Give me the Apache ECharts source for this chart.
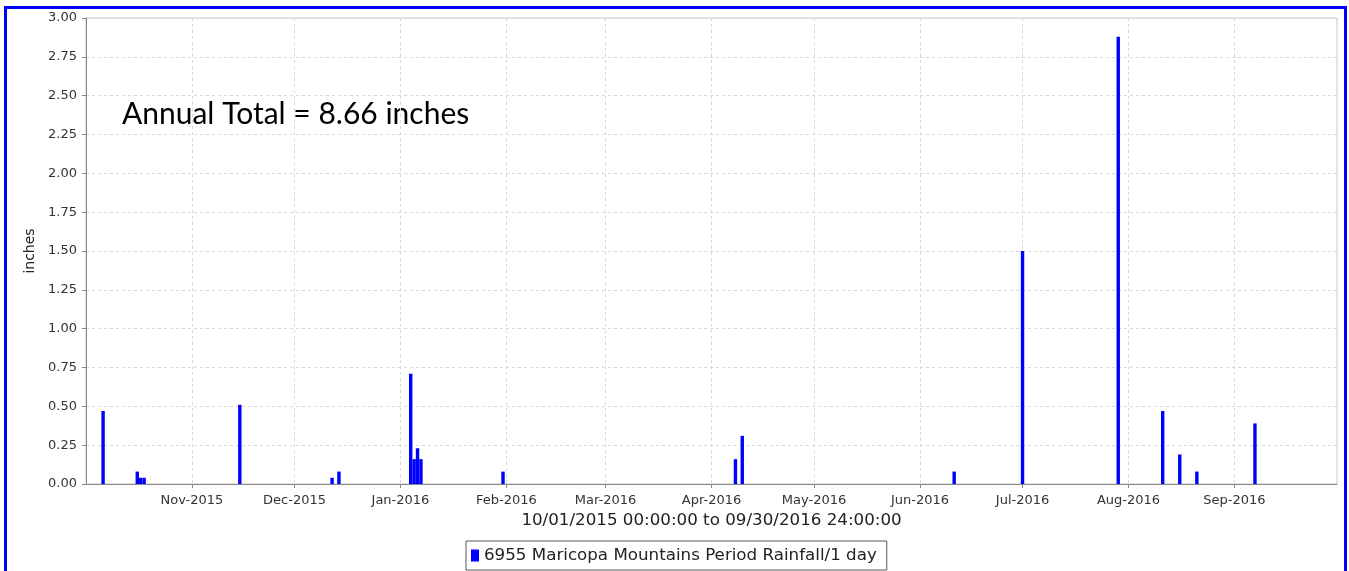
<!DOCTYPE html>
<html>
<head>
<meta charset="utf-8">
<title>Maricopa Mountains Period Rainfall</title>
<script src="https://cdn.jsdelivr.net/npm/echarts@6.0.0/dist/echarts.min.js"></script>
<style>
    html, body { margin: 0; padding: 0; background: #fff; overflow: hidden; }
    #main { width: 1349px; height: 571px; }
    .frame {
        position: absolute; left: 4px; top: 6px; width: 1343px; height: 600px;
        box-sizing: border-box; border: 3px solid #0000ff; pointer-events: none;
    }
</style>
</head>
<body>
<div id="main"></div>
<div class="frame"></div>
<script>
// daily rainfall, water year 2015-16 (days with rain only)
const rainDates = [
    '2015-10-06', '2015-10-16', '2015-10-17', '2015-10-18', '2015-11-15',
    '2015-12-12', '2015-12-14', '2016-01-04', '2016-01-05', '2016-01-06',
    '2016-01-07', '2016-01-31', '2016-04-08', '2016-04-10', '2016-06-11',
    '2016-07-01', '2016-07-29', '2016-08-11', '2016-08-16', '2016-08-21',
    '2016-09-07'
]
const rainInches = [
    0.47, 0.08, 0.04, 0.04, 0.51,
    0.04, 0.08, 0.71, 0.16, 0.23,
    0.16, 0.08, 0.16, 0.31, 0.08,
    1.50, 2.88, 0.47, 0.19, 0.08,
    0.39
]
// month ticks on the x axis
const monthTicks = [
    '2015-11-01', '2015-12-01', '2016-01-01', '2016-02-01', '2016-03-01', '2016-04-01',
    '2016-05-01', '2016-06-01', '2016-07-01', '2016-08-01', '2016-09-01'
]
const monthLabels = [
    'Nov-2015', 'Dec-2015', 'Jan-2016', 'Feb-2016', 'Mar-2016', 'Apr-2016',
    'May-2016', 'Jun-2016', 'Jul-2016', 'Aug-2016', 'Sep-2016'
]
const periodStart = '2015-10-01'
const periodEnd = '2016-10-01'
const seriesName = '6955 Maricopa Mountains Period Rainfall/1 day'
const periodText = '10/01/2015 00:00:00 to 09/30/2016 24:00:00'
const totalText = 'Annual Total = 8.66 inches'

const toTime = (d) => echarts.time.parse(d).getTime()
const tickTimes = monthTicks.map(toTime)

const myChart = echarts.init(document.getElementById('main'))
const option = {
    animation: false,
    textStyle: { fontFamily: 'DejaVu Sans' },
    grid: {
        left: 86, right: 12, top: 18, bottom: 87,
        containLabel: false,
        outerBoundsMode: 'none',
        show: true,
        borderColor: '#c8c8c8',
        borderWidth: 1,
        backgroundColor: '#fff'
    },
    legend: {
        left: 466,
        top: 541,
        padding: [6, 10, 6, 5],
        borderColor: '#555',
        borderWidth: 1,
        borderRadius: 0,
        itemWidth: 8,
        itemHeight: 12,
        icon: 'rect',
        textStyle: { fontSize: 16.7, color: '#222', fontFamily: 'DejaVu Sans' },
        data: [seriesName]
    },
    xAxis: {
        type: 'value',
        min: toTime(periodStart),
        max: toTime(periodEnd),
        name: periodText,
        nameLocation: 'middle',
        nameGap: 26,
        nameTextStyle: { fontSize: 16.7, color: '#222' },
        axisLine: { lineStyle: { color: '#888' } },
        axisTick: { show: true, length: 4, lineStyle: { color: '#888' }, customValues: tickTimes },
        axisLabel: {
            fontSize: 13,
            color: '#333',
            margin: 10,
            customValues: tickTimes,
            formatter: (val) => {
                const i = tickTimes.indexOf(val)
                return i >= 0 ? monthLabels[i] : ''
            }
        },
        splitLine: { show: true, lineStyle: { color: '#d8d8d8', type: [3, 3] } }
    },
    yAxis: {
        type: 'value',
        min: 0,
        max: 3,
        interval: 0.25,
        name: 'inches',
        nameLocation: 'middle',
        nameGap: 45,
        nameTextStyle: { fontSize: 14, color: '#222' },
        axisLine: { show: true, lineStyle: { color: '#888' } },
        axisTick: { show: true, length: 4, lineStyle: { color: '#888' } },
        axisLabel: {
            fontSize: 13,
            color: '#333',
            margin: 9,
            formatter: (val) => val.toFixed(2)
        },
        splitLine: { show: true, lineStyle: { color: '#d8d8d8', type: [3, 3] } }
    },
    graphic: [{
        type: 'text',
        left: 122,
        top: 99,
        style: {
            text: totalText,
            font: '30px Lato',
            fill: '#000'
        }
    }],
    series: [{
        name: seriesName,
        type: 'bar',
        barWidth: 3.4,
        itemStyle: { color: '#0000ff' },
        data: rainDates.map((d, i) => [toTime(d), rainInches[i]])
    }]
}
myChart.setOption(option)
</script>
</body>
</html>
